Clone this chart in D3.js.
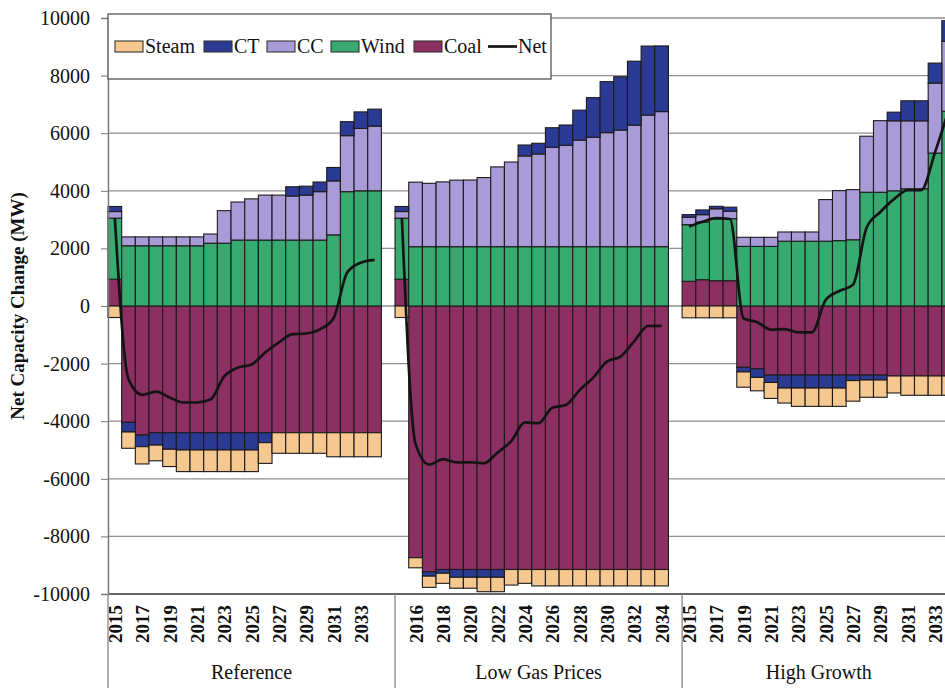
<!DOCTYPE html>
<html><head><meta charset="utf-8">
<script src="https://cdn.jsdelivr.net/npm/d3@7"></script>
<style>
body{margin:0;background:#fff}
svg{display:block;background:#fff}
text{font-family:"Liberation Serif","Times New Roman",serif;fill:#111}
</style>
</head><body><svg id="c" width="945" height="688"></svg>
<script>
// ---------------- DATA ----------------
const scenarios = ["Reference", "Low Gas Prices", "High Growth"];
const years = [2015,2016,2017,2018,2019,2020,2021,2022,2023,2024,2025,2026,2027,2028,2029,2030,2031,2032,2033,2034];
const legendKeys = ["Steam", "CT", "CC", "Wind", "Coal"];
const yTicks = [-10000,-8000,-6000,-4000,-2000,0,2000,4000,6000,8000,10000];

// Reference
const refSteam = [-400,-565,-600,-545,-600,-750,-750,-750,-750,-750,-750,-720,-715,-715,-715,-715,-835,-835,-835,-835];
const refCT    = [175,-335,-405,-430,-575,-600,-600,-600,-600,-600,-600,-345,0,320,310,335,465,485,575,590];
const refCC    = [230,310,310,310,310,310,310,320,1130,1320,1430,1560,1560,1530,1560,1680,1875,1945,2165,2245];
const refWind  = [2120,2090,2090,2090,2090,2090,2090,2180,2180,2290,2290,2290,2290,2290,2290,2290,2470,3970,4000,4000];
const refCoal  = [930,-4040,-4480,-4400,-4400,-4400,-4400,-4400,-4400,-4400,-4400,-4400,-4400,-4400,-4400,-4400,-4400,-4400,-4400,-4400];
const refNet   = [3055,-2540,-3085,-2975,-3175,-3350,-3350,-3250,-2440,-2140,-2030,-1615,-1265,-975,-955,-810,-425,1165,1505,1600];

// Low Gas Prices
const lowSteam = [-400,-350,-390,-350,-380,-380,-500,-500,-540,-480,-570,-570,-570,-570,-570,-570,-570,-570,-570,-570];
const lowCT    = [175,0,-150,-130,-270,-270,-270,-270,0,380,370,680,705,1040,1375,1770,1850,2220,2395,2280];
const lowCC    = [230,2240,2200,2250,2310,2315,2400,2770,2940,3150,3220,3450,3520,3700,3800,3960,4050,4220,4570,4690];
const lowWind  = [2120,2060,2060,2060,2060,2060,2060,2060,2060,2060,2060,2060,2060,2060,2060,2060,2060,2060,2060,2060];
const lowCoal  = [930,-8740,-9230,-9150,-9150,-9150,-9150,-9150,-9150,-9150,-9150,-9150,-9150,-9150,-9150,-9150,-9150,-9150,-9150,-9150];
const lowNet   = [3055,-4790,-5510,-5320,-5430,-5425,-5460,-5090,-4690,-4040,-4070,-3530,-3435,-2920,-2485,-1930,-1760,-1220,-695,-690];

// High Growth
const hiSteam = [-410,-410,-410,-410,-530,-465,-555,-520,-635,-635,-635,-635,-715,-600,-600,-590,-670,-670,-670,-670];
const hiCT    = [90,165,85,140,-160,-300,-255,-450,-450,-450,-450,-450,-190,-170,-170,300,695,695,695,715];
const hiCC    = [260,255,345,260,315,315,315,320,320,320,1445,1735,1740,1945,2485,2430,2360,2360,2430,2430];
const hiWind  = [1965,2003,2153,2153,2070,2070,2070,2250,2250,2250,2250,2270,2300,3950,3950,4000,4070,4070,5310,6760];
const hiCoal  = [858,913,878,878,-2130,-2180,-2400,-2400,-2400,-2400,-2400,-2400,-2400,-2400,-2400,-2430,-2430,-2430,-2430,-2430];
const hiNet   = [2763,2926,3051,3021,-435,-560,-825,-800,-915,-915,210,520,735,2725,3265,3710,4025,4025,5335,6805];

// ---------------- BUILD ----------------
const table = [
  {Steam:refSteam, CT:refCT, CC:refCC, Wind:refWind, Coal:refCoal, Net:refNet},
  {Steam:lowSteam, CT:lowCT, CC:lowCC, Wind:lowWind, Coal:lowCoal, Net:lowNet},
  {Steam:hiSteam,  CT:hiCT,  CC:hiCC,  Wind:hiWind,  Coal:hiCoal,  Net:hiNet}
];
const colors = {Steam:"#F4C88E", CT:"#2B3B93", CC:"#A89BD7", Wind:"#37AB6F", Coal:"#8C2F63"};

const cats = [];
const rows = [];
scenarios.forEach((s, i) => {
  years.forEach((yr, j) => {
    const key = s + "|" + yr;
    cats.push({key, scen:i, year:yr, idx:cats.length});
    const r = {key, scen:i, year:yr};
    legendKeys.forEach(k => r[k] = table[i][k][j]);
    r.Net = table[i].Net[j];
    rows.push(r);
  });
  if (i < 2) cats.push({key: s + "|blank", blank:true, idx:cats.length});
});

const svg = d3.select("#c");
const L = 108, R = 955.5, T = 18, B = 594;
const x = d3.scaleBand().domain(cats.map(c => c.key)).range([L, R]).padding(0);
const y = d3.scaleLinear().domain([-10000, 10000]).range([B, T]);

// gridlines
svg.append("g").selectAll("line").data(yTicks).join("line")
  .attr("x1", L).attr("x2", 945 + 20)
  .attr("y1", d => y(d)).attr("y2", d => y(d))
  .attr("stroke", d => d === -10000 ? "#666" : "#8e8e8e")
  .attr("stroke-width", d => d === -10000 ? 2 : 1.3);

// stacked bars
const stack = d3.stack().keys(["Coal","Wind","CC","CT","Steam"]).offset(d3.stackOffsetDiverging);
const series = stack(rows);
svg.append("g").selectAll("g").data(series).join("g")
  .attr("fill", d => colors[d.key])
  .selectAll("rect").data(d => d.filter(p => p[1] !== p[0])).join("rect")
  .attr("x", d => x(d.data.key))
  .attr("width", x.bandwidth())
  .attr("y", d => y(Math.max(d[0], d[1])))
  .attr("height", d => Math.abs(y(d[0]) - y(d[1])))
  .attr("stroke", "#1d1a1c").attr("stroke-width", 1.1);

// net lines per scenario
const line = d3.line()
  .x(d => x(d.key) + x.bandwidth() / 2)
  .y(d => y(d.Net))
  .curve(d3.curveMonotoneX);
scenarios.forEach((s, i) => {
  svg.append("path").datum(rows.filter(r => r.scen === i))
    .attr("d", line).attr("fill", "none")
    .attr("stroke", "#141414").attr("stroke-width", 2.7)
    .attr("stroke-linejoin", "round");
});

// y axis
const yAxis = d3.axisLeft(y).tickValues(yTicks).tickSize(7).tickPadding(11).tickFormat(d => String(d));
const ga = svg.append("g").attr("transform", `translate(${L},0)`).call(yAxis);
ga.select(".domain").attr("stroke", "#777").attr("stroke-width", 1.5);
ga.selectAll(".tick line").attr("stroke", "#777");
ga.selectAll(".tick text").attr("font-size", 20).attr("font-family", '"Liberation Serif",serif').attr("fill", "#111");

// y title
svg.append("text")
  .attr("transform", "translate(24,306) rotate(-90)")
  .attr("text-anchor", "middle")
  .attr("font-size", 19).attr("font-weight", "bold")
  .text("Net Capacity Change (MW)");

// x year labels (every other category)
svg.append("g").selectAll("text")
  .data(cats.filter(c => !c.blank && c.idx % 2 === 0)).join("text")
  .attr("transform", c => `translate(${x(c.key) + x.bandwidth()/2 + 0.5},605) rotate(-90)`)
  .attr("text-anchor", "end").attr("dy", "0.35em")
  .attr("font-size", 19).attr("font-weight", "bold")
  .text(c => c.year);

// group separators and labels
const groupBounds = scenarios.map((s, i) => {
  const ks = cats.filter(c => c.key.startsWith(s + "|"));
  return {s, x0: x(ks[0].key), x1: x(ks[ks.length - 1].key) + x.bandwidth()};
});
svg.append("g").selectAll("line").data(groupBounds).join("line")
  .attr("x1", d => d.x0).attr("x2", d => d.x0)
  .attr("y1", B).attr("y2", 688)
  .attr("stroke", "#888").attr("stroke-width", 1.3);
svg.append("g").selectAll("text").data(groupBounds).join("text")
  .attr("x", d => (d.x0 + d.x1) / 2)
  .attr("y", 679).attr("text-anchor", "middle")
  .attr("font-size", 20)
  .text(d => d.s);

// legend
const lg = svg.append("g");
lg.append("rect").attr("x", L).attr("y", 14).attr("width", 443).attr("height", 65)
  .attr("fill", "#fff").attr("stroke", "#555").attr("stroke-width", 1.3);
const legendItems = legendKeys.concat(["Net"]);
const legendX = [115, 204, 267, 331, 414, 488];
legendItems.forEach((k, i) => {
  const g = lg.append("g").attr("transform", `translate(${legendX[i]},0)`);
  if (k === "Net") {
    g.append("line").attr("x1", 0).attr("x2", 29).attr("y1", 46.5).attr("y2", 46.5)
      .attr("stroke", "#141414").attr("stroke-width", 2.7);
  } else {
    g.append("rect").attr("x", 0).attr("y", 41).attr("width", 28).attr("height", 11)
      .attr("fill", colors[k]).attr("stroke", "#333").attr("stroke-width", 1.1);
  }
  g.append("text").attr("x", 30).attr("y", 53).attr("font-size", 20).text(k);
});
</script>
</body></html>
